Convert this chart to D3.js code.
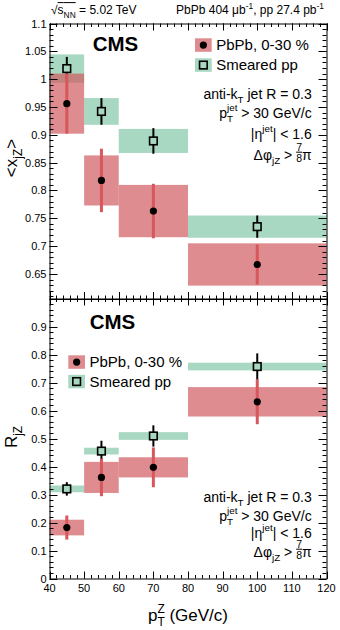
<!DOCTYPE html>
<html>
<head>
<meta charset="utf-8">
<script src="https://cdn.jsdelivr.net/npm/d3@7"></script>
<style>
  html, body { margin: 0; padding: 0; background: #fff; }
  svg { display: block; font-family: "Liberation Sans", Arial, Helvetica, sans-serif; }
  svg text { white-space: pre; }
</style>
</head>
<body>
<svg id="chart" width="340" height="630"></svg>
<script>
// ---------------- data ----------------
const binLo = [40, 50, 60, 80];
const binHi = [50, 60, 80, 120];
const binCenter = [45, 55, 70, 100];

// <x_jZ>
const xjzPbPb = [0.956, 0.818, 0.763, 0.667];
const xjzPbPbStat = [0.054, 0.057, 0.049, 0.036];
const xjzPbPbSys = [0.054, 0.045, 0.047, 0.038];
const xjzPP = [1.019, 0.942, 0.889, 0.735];
const xjzPPStat = [0.021, 0.024, 0.023, 0.020];
const xjzPPSys = [0.0255, 0.024, 0.0216, 0.020];

// R_jZ
const rjzPbPb = [0.182, 0.361, 0.397, 0.631];
const rjzPbPbStat = [0.043, 0.067, 0.071, 0.080];
const rjzPbPbSys = [0.028, 0.0555, 0.036, 0.0525];
const rjzPP = [0.320, 0.455, 0.509, 0.757];
const rjzPPStat = [0.024, 0.037, 0.038, 0.047];
const rjzPPSys = [0.012, 0.012, 0.0137, 0.0137];

const xTicks = [40, 50, 60, 70, 80, 90, 100, 110, 120];
const xMinor = d3.range(40, 120.001, 2);
const topTicks = [0.65, 0.7, 0.75, 0.8, 0.85, 0.9, 0.95, 1, 1.05, 1.1];
const topMinor = d3.range(0.61, 1.1001, 0.01);
const botTicks = [0, 0.1, 0.2, 0.3, 0.4, 0.5, 0.6, 0.7, 0.8, 0.9];
const botMinor = d3.range(0, 1.0001, 0.02);

// ---------------- style ----------------
const RED_BOX = "rgb(208,91,95)";
const RED_BOX_OP = 0.7;
const GREEN_BOX = "#a9d8c2";
const RED_LINE = "#d8575c";

const svg = d3.select("#chart");

const x = d3.scaleLinear().domain([40, 120]).range([49.5, 326.5]);
const yTop = d3.scaleLinear().domain([0.605, 1.1]).range([299, 23.5]);
const yBot = d3.scaleLinear().domain([0, 1]).range([578.5, 298.5]);

function drawFrame(y, majors, minors, opts) {
  const g = svg.append("g");
  const [x0, x1] = x.range();
  const [yb, yt] = y.range();
  const yMaj = 8, yMin = 4, xMaj = 7, xMin = 3.5;
  const lines = [];
  minors.forEach(v => {
    const yy = Math.round(y(v)) + 0.5;
    if (yy < yt - 0.5 || yy > yb + 0.5) return;
    lines.push([x0, yy, x0 + yMin, yy]);
    lines.push([x1, yy, x1 - yMin, yy]);
  });
  majors.forEach(v => {
    const yy = Math.round(y(v)) + 0.5;
    lines.push([x0, yy, x0 + yMaj, yy]);
    lines.push([x1, yy, x1 - yMaj, yy]);
  });
  xMinor.forEach(v => {
    const xx = Math.round(x(v)) + 0.5;
    lines.push([xx, yb, xx, yb - xMin]);
    lines.push([xx, yt, xx, yt + xMin]);
  });
  xTicks.forEach(v => {
    const xx = Math.round(x(v)) + 0.5;
    lines.push([xx, yb, xx, yb - xMaj]);
    lines.push([xx, yt, xx, yt + xMaj]);
  });
  g.selectAll("line").data(lines).join("line")
    .attr("x1", d => d[0]).attr("y1", d => d[1])
    .attr("x2", d => d[2]).attr("y2", d => d[3])
    .attr("stroke", "#000").attr("stroke-width", 1);
  g.append("rect")
    .attr("x", x0 + 0.5).attr("y", yt + 0.5)
    .attr("width", x1 - x0).attr("height", yb - yt)
    .attr("fill", "none").attr("stroke", "#000").attr("stroke-width", 1);
  const fmt = d3.format("~g");
  g.selectAll("text.ylab").data(majors).join("text")
    .attr("class", "ylab")
    .attr("x", x0 - 3).attr("y", d => y(d) + 4)
    .attr("text-anchor", "end")
    .attr("font-size", 11).attr("fill", "#000")
    .text(d => fmt(d));
  if (opts.xLabels) {
    g.selectAll("text.xlab").data(xTicks).join("text")
      .attr("class", "xlab")
      .attr("x", d => x(d)).attr("y", yb + 13)
      .attr("text-anchor", "middle")
      .attr("font-size", 11).attr("fill", "#000")
      .text(d => d);
  }
}

function drawData(y, pb, pbStat, pbSys, pp, ppStat, ppSys) {
  const g = svg.append("g");
  const idx = d3.range(binCenter.length);
  g.selectAll("rect.gbox").data(idx).join("rect").attr("class", "gbox")
    .attr("x", i => x(binLo[i])).attr("width", i => x(binHi[i]) - x(binLo[i]))
    .attr("y", i => y(pp[i] + ppSys[i])).attr("height", i => y(pp[i] - ppSys[i]) - y(pp[i] + ppSys[i]))
    .attr("fill", GREEN_BOX);
  g.selectAll("rect.rbox").data(idx).join("rect").attr("class", "rbox")
    .attr("x", i => x(binLo[i])).attr("width", i => x(binHi[i]) - x(binLo[i]))
    .attr("y", i => y(pb[i] + pbSys[i])).attr("height", i => y(pb[i] - pbSys[i]) - y(pb[i] + pbSys[i]))
    .attr("fill", RED_BOX).attr("fill-opacity", RED_BOX_OP);
  g.selectAll("line.pbar").data(idx).join("line").attr("class", "pbar")
    .attr("x1", i => x(binCenter[i])).attr("x2", i => x(binCenter[i]))
    .attr("y1", i => y(pp[i] + ppStat[i])).attr("y2", i => y(pp[i] - ppStat[i]))
    .attr("stroke", "#000").attr("stroke-width", 2);
  g.selectAll("rect.psq").data(idx).join("rect").attr("class", "psq")
    .attr("x", i => x(binCenter[i]) - 3.8).attr("y", i => y(pp[i]) - 3.8)
    .attr("width", 7.6).attr("height", 7.6)
    .attr("fill", GREEN_BOX).attr("stroke", "#000").attr("stroke-width", 1.6);
  g.selectAll("line.rbar").data(idx).join("line").attr("class", "rbar")
    .attr("x1", i => x(binCenter[i])).attr("x2", i => x(binCenter[i]))
    .attr("y1", i => y(pb[i] + pbStat[i])).attr("y2", i => y(pb[i] - pbStat[i]))
    .attr("stroke", RED_LINE).attr("stroke-width", 3);
  g.selectAll("circle.pc").data(idx).join("circle").attr("class", "pc")
    .attr("cx", i => x(binCenter[i])).attr("cy", i => y(pb[i]))
    .attr("r", 3.6).attr("fill", "#000");
}

// Rich text: pieces laid out left-to-right, then aligned
function richText(parent, pieces, xPos, baseline, size, anchor) {
  const g = parent.append("g");
  let cx = 0;
  pieces.forEach(p => {
    if (p.frac) {
      const fs = 10.5;
      const t1 = g.append("text").attr("font-size", fs).attr("y", -9).text(p.frac[0]);
      const t2 = g.append("text").attr("font-size", fs).attr("y", 2).text(p.frac[1]);
      const w1 = t1.node().getComputedTextLength(), w2 = t2.node().getComputedTextLength();
      const w = Math.max(w1, w2);
      t1.attr("x", cx + (w - w1) / 2);
      t2.attr("x", cx + (w - w2) / 2);
      g.append("line").attr("x1", cx).attr("x2", cx + w)
        .attr("y1", -7.3).attr("y2", -7.3)
        .attr("stroke", "#000").attr("stroke-width", 1);
      cx += w;
      return;
    }
    if (p.subsup) {
      const fs = size * 0.7;
      const a = g.append("text").attr("font-size", fs).attr("x", cx).attr("y", -size * 0.5).text(p.subsup[0]);
      const b = g.append("text").attr("font-size", fs).attr("x", cx).attr("y", size * 0.32).text(p.subsup[1]);
      cx += Math.max(a.node().getComputedTextLength(), b.node().getComputedTextLength());
      return;
    }
    let fs = size, dy = 0;
    if (p.sub) { fs = size * 0.7; dy = size * 0.32; }
    if (p.sup) { fs = size * 0.7; dy = -size * 0.45; }
    const t = g.append("text").attr("font-size", fs).attr("x", cx).attr("y", dy).text(p.t);
    const w = t.node().getComputedTextLength();
    if (p.over) {
      g.append("line").attr("x1", cx).attr("x2", cx + w)
        .attr("y1", -size * 0.95).attr("y2", -size * 0.95)
        .attr("stroke", "#000").attr("stroke-width", 1);
    }
    cx += w;
  });
  let shift = xPos;
  if (anchor === "end") shift = xPos - cx;
  else if (anchor === "middle") shift = xPos - cx / 2;
  g.attr("transform", `translate(${shift},${baseline})`);
  g.selectAll("text").attr("fill", "#000");
  g.datum(cx);
  return g;
}

// --------------- draw ---------------
drawData(yTop, xjzPbPb, xjzPbPbStat, xjzPbPbSys, xjzPP, xjzPPStat, xjzPPSys);
drawFrame(yTop, topTicks, topMinor, { xLabels: false });
drawData(yBot, rjzPbPb, rjzPbPbStat, rjzPbPbSys, rjzPP, rjzPPStat, rjzPPSys);
drawFrame(yBot, botTicks, botMinor, { xLabels: true });

// header
richText(svg, [{ t: "\u221A" }, { t: "s", over: true }, { t: "NN", sub: true, over: true }, { t: " = 5.02 TeV" }], 51, 14, 12, "start");
richText(svg, [{ t: "PbPb 404 \u03BCb" }, { t: "-1", sup: true }, { t: ", pp 27.4 pb" }, { t: "-1", sup: true }], 324, 14, 12, "end");

// CMS labels
svg.append("text").attr("x", 115.5).attr("y", 51).attr("text-anchor", "middle")
  .attr("font-size", 20.5).attr("font-weight", "bold").text("CMS");
svg.append("text").attr("x", 112.5).attr("y", 329).attr("text-anchor", "middle")
  .attr("font-size", 20.5).attr("font-weight", "bold").text("CMS");

// legends
function legend(bx, by, gap) {
  const g = svg.append("g");
  const w = 16.7, h = 13.5;
  g.append("rect").attr("x", bx).attr("y", by).attr("width", w).attr("height", h)
    .attr("fill", RED_BOX).attr("fill-opacity", RED_BOX_OP);
  g.append("circle").attr("cx", bx + w / 2).attr("cy", by + h / 2).attr("r", 3.6).attr("fill", "#000");
  g.append("rect").attr("x", bx).attr("y", by + gap).attr("width", w).attr("height", h)
    .attr("fill", GREEN_BOX);
  g.append("rect").attr("x", bx + w / 2 - 3.8).attr("y", by + gap + h / 2 - 3.8)
    .attr("width", 7.6).attr("height", 7.6)
    .attr("fill", GREEN_BOX).attr("stroke", "#000").attr("stroke-width", 1.6);
  g.append("text").attr("x", bx + w + 4.5).attr("y", by + h / 2 + 5.3).attr("font-size", 15).text("PbPb, 0-30 %");
  g.append("text").attr("x", bx + w + 4.5).attr("y", by + gap + h / 2 + 5.3).attr("font-size", 15).text("Smeared pp");
}
legend(195, 38.3, 20);
legend(68.3, 355.3, 19.5);

// annotations
function annot(rightX, baselines) {
  const s = 14;
  richText(svg, [{ t: "anti-k" }, { t: "T", sub: true }, { t: " jet R = 0.3" }], rightX, baselines[0], s, "end");
  richText(svg, [{ t: "p" }, { subsup: ["jet", "T"] }, { t: " > 30 GeV/c" }], rightX, baselines[1], s, "end");
  richText(svg, [{ t: "|\u03B7" }, { t: "jet", sup: true }, { t: "| < 1.6" }], rightX, baselines[2], s, "end");
  richText(svg, [{ t: "\u0394\u03C6" }, { t: "jZ", sub: true }, { t: " > " }, { frac: ["7", "8"] }, { t: "\u03C0" }], rightX, baselines[3], s, "end");
}
annot(311.7, [98.5, 117.5, 138.5, 159.5]);
annot(311.7, [501.7, 520.7, 537.5, 556.5]);

// axis titles
richText(svg, [{ t: "p" }, { subsup: ["Z", "T"] }, { t: " (GeV/c)" }], 188, 621, 17, "middle");

function yTitle(pieces, cx, cy) {
  const g = richText(svg, pieces, 0, 0, 17, "start");
  const w = g.datum();
  g.attr("transform", `translate(${cx},${cy}) rotate(-90) translate(${-w / 2},0)`);
}
yTitle([{ t: "<x" }, { t: "jZ", sub: true }, { t: ">" }], 17, 158);
yTitle([{ t: "R" }, { t: "jZ", sub: true }], 17, 437);
</script>
</body>
</html>
